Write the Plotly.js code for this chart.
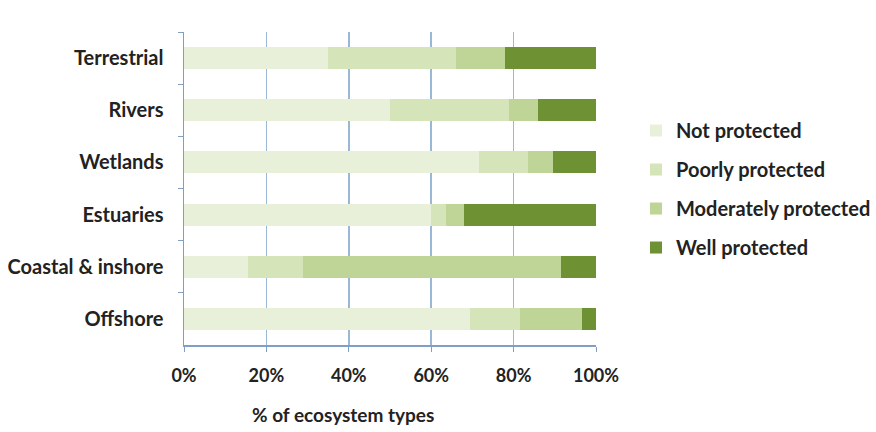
<!DOCTYPE html>
<html>
<head>
<meta charset="utf-8">
<script src="https://cdn.plot.ly/plotly-3.0.1.min.js"></script>
<style>html,body{margin:0;padding:0;background:#fff;}#chart{width:876px;height:432px;}</style>
</head>
<body>
<div id="chart"></div>
<script>
const categories = ["Terrestrial", "Rivers", "Wetlands", "Estuaries", "Coastal & inshore", "Offshore"];
const notProtected = [35, 50, 71.5, 60, 15.5, 69.5];
const poorlyProtected = [31, 29, 12, 3.5, 13.5, 12];
const moderatelyProtected = [12, 7, 6, 4.5, 62.5, 15];
const wellProtected = [22, 14, 10.5, 32, 8.5, 3.5];
const seriesNames = ["Not protected", "Poorly protected", "Moderately protected", "Well protected"];
const xTickVals = [0, 20, 40, 60, 80, 100];
const xTickText = ["0%", "20%", "40%", "60%", "80%", "100%"];

const colors = ["#e8f0da", "#d5e4b9", "#bed597", "#6e9233"];
const series = [notProtected, poorlyProtected, moderatelyProtected, wellProtected];
const FONT = "Lato, 'Open Sans', sans-serif";

const traces = series.map((vals, i) => ({
  type: "bar",
  orientation: "h",
  name: seriesNames[i],
  y: categories,
  x: vals,
  legendgroup: "g" + i,
  marker: {color: colors[i], line: {width: 0}},
  hoverinfo: "x+name"
}));

const layout = {
  width: 876, height: 432,
  margin: {l: 184, r: 280, t: 32, b: 87},
  paper_bgcolor: "#ffffff",
  plot_bgcolor: "#ffffff",
  barmode: "stack",
  bargap: 0.58,
  font: {family: FONT, size: 19, color: "#222"},
  xaxis: {
    range: [0, 100],
    tickvals: xTickVals,
    ticktext: xTickText,
    showgrid: true,
    gridcolor: "#9bb7d6",
    gridwidth: 1.5,
    zeroline: false,
    showline: true,
    linecolor: "#7f9fc4",
    linewidth: 1.5,
    ticks: "outside",
    ticklen: 5,
    tickcolor: "#7f9fc4",
    ticklabelstandoff: 9,
    tickfont: {family: FONT, size: 18, color: "#222", weight: "bold"},
    automargin: false,
    fixedrange: true
  },
  yaxis: {
    autorange: "reversed",
    type: "category",
    showgrid: false,
    zeroline: false,
    showline: true,
    linecolor: "#7f9fc4",
    linewidth: 1.5,
    ticks: "outside",
    tickson: "boundaries",
    ticklen: 5,
    tickcolor: "#7f9fc4",
    ticklabelstandoff: 15,
    tickfont: {family: FONT, size: 20, color: "#222", weight: "bold"},
    automargin: false,
    fixedrange: true
  },
  legend: {
    x: 0.726, y: 0.743,
    xref: "container", yref: "container",
    xanchor: "left", yanchor: "top",
    traceorder: "grouped",
    tracegroupgap: 10,
    font: {family: FONT, size: 20, color: "#222", weight: "bold"},
    itemwidth: 30,
    bgcolor: "rgba(0,0,0,0)"
  },
  annotations: [{
    text: "% of ecosystem types",
    xref: "paper", yref: "paper",
    x: 0.16, y: -0.18,
    xanchor: "left", yanchor: "top",
    showarrow: false,
    font: {family: FONT, size: 19, color: "#222", weight: "bold"}
  }]
};

Plotly.newPlot("chart", traces, layout, {displayModeBar: false, staticPlot: true});
</script>
</body>
</html>
